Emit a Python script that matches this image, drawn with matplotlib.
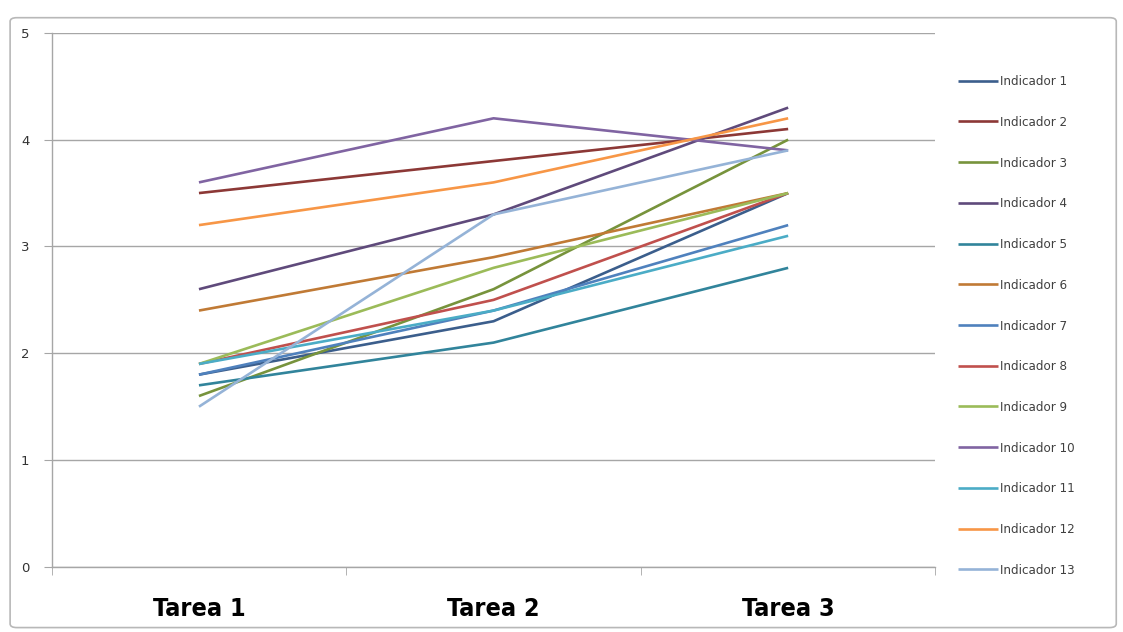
import matplotlib.pyplot as plt
from matplotlib.patches import FancyBboxPatch

# -- data -------------------------------------------------------------------
tareas = ["Tarea 1", "Tarea 2", "Tarea 3"]
indicadores = ["Indicador %d" % i for i in range(1, 14)]

ind_1 = [1.8, 2.3, 3.5]
ind_2 = [3.5, 3.8, 4.1]
ind_3 = [1.6, 2.6, 4.0]
ind_4 = [2.6, 3.3, 4.3]
ind_5 = [1.7, 2.1, 2.8]
ind_6 = [2.4, 2.9, 3.5]
ind_7 = [1.8, 2.4, 3.2]
ind_8 = [1.9, 2.5, 3.5]
ind_9 = [1.9, 2.8, 3.5]
ind_10 = [3.6, 4.2, 3.9]
ind_11 = [1.9, 2.4, 3.1]
ind_12 = [3.2, 3.6, 4.2]
ind_13 = [1.5, 3.3, 3.9]
series = [ind_1, ind_2, ind_3, ind_4, ind_5, ind_6, ind_7,
          ind_8, ind_9, ind_10, ind_11, ind_12, ind_13]

# excel 2007 style palette (dark shades first, then normal, then light)
colors = ['#3B5E8C', '#8C3836', '#77933C', '#5F4A7B', '#31849B', '#C07A35',
          '#4F81BD', '#C0504D', '#9BBB59', '#8064A2', '#4BACC6', '#F79646',
          '#95B3D7']

# -- plot ---------------------------------------------------------------------
fig = plt.figure(figsize=(11.23, 6.32), dpi=100)
fig.patch.set_facecolor('white')

# outer chart frame
frame = FancyBboxPatch((0.009, 0.007), 0.985, 0.965, boxstyle="round,pad=0,rounding_size=0.006",
                       transform=fig.transFigure, fill=False, ec='#b8b8b8', lw=1.2)
fig.patches.append(frame)

ax = fig.add_axes([0.046, 0.103, 0.787, 0.845])
x = list(range(len(tareas)))
for vals, lab, c in zip(series, indicadores, colors):
    ax.plot(x, vals, color=c, lw=1.9, label=lab, solid_capstyle='butt')

ax.set_xlim(-0.5, 2.5)
ax.set_ylim(0, 5)
ax.set_yticks(range(0, 6))
ax.yaxis.grid(True, color='#a6a6a6', lw=1.0)
ax.set_axisbelow(True)

ax.set_xticks(x)
ax.set_xticklabels(tareas, fontsize=18, fontweight='bold', fontstretch='condensed',
                   family=['DejaVu Sans'])
ax.tick_params(axis='x', length=0, pad=22)
ax.set_xticks([-0.5, 0.5, 1.5, 2.5], minor=True)
ax.tick_params(axis='x', which='minor', length=6, color='#a6a6a6')
ax.tick_params(axis='y', length=6, color='#a6a6a6', labelsize=9.5,
               labelcolor='#333333', pad=10)

for s in ['top', 'right']:
    ax.spines[s].set_visible(False)
for s in ['left', 'bottom']:
    ax.spines[s].set_color('#a6a6a6')
    ax.spines[s].set_linewidth(1.0)

fig.legend(loc='center left', bbox_to_anchor=(0.853, 0.484), frameon=False,
           fontsize=9.5, labelspacing=2.1, handlelength=3.0, handletextpad=0.2,
           borderpad=0, borderaxespad=0, labelcolor='#404040',
           prop={'size': 9.5, 'stretch': 'condensed'})

plt.savefig("out.png", dpi=100)
plt.close()
